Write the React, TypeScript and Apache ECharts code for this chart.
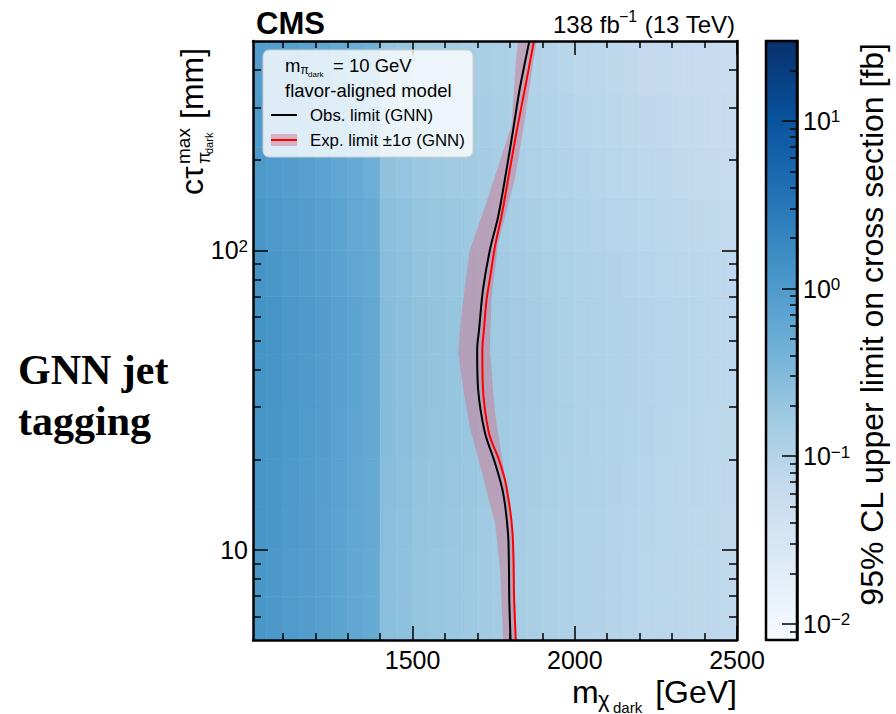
import React, { useEffect, useRef } from "react";
import * as echarts from "echarts";

// ---------- data ----------
// heat-map: 95% CL upper limit on cross section [fb]
const massEdges = [1000, 1050, 1100, 1150, 1200, 1250, 1300, 1350, 1400, 1450, 1500, 1550, 1600, 1650, 1700, 1750, 1800, 1850, 1900, 1950, 2000, 2050, 2100, 2150, 2200, 2250, 2300, 2350, 2400, 2450, 2500];
const limitVsMass = [1.15, 1.1, 1.0, 0.92, 0.82, 0.72, 0.63, 0.55, 0.26, 0.24, 0.21, 0.2, 0.19, 0.18, 0.165, 0.155, 0.14, 0.13, 0.12, 0.112, 0.105, 0.1, 0.095, 0.091, 0.087, 0.083, 0.08, 0.077, 0.074, 0.071];
const ctauEdges = [5, 7, 10, 14, 20, 30, 45, 70, 100, 150, 220, 330, 500];
const ctauFactor = [1.0, 1.0, 1.02, 1.05, 1.08, 1.1, 1.1, 1.05, 0.98, 0.9, 0.85, 0.8];

// observed limit contour (GNN)
const obsCtau = [5, 6.8, 8.8, 11.4, 15.5, 19.5, 24.6, 34.3, 46.7, 54.5, 74, 100, 130, 187, 261, 345, 500];
const obsMass = [1802, 1798, 1797, 1794, 1779, 1754, 1723, 1702, 1699, 1705, 1717, 1738, 1764, 1790, 1812, 1830, 1860];

// expected limit contour (GNN)
const expCtau = [5, 6.8, 11.4, 16.5, 20, 24.6, 36.2, 46.7, 54.5, 68.5, 80, 103, 130, 187, 254, 345, 500];
const expMass = [1818, 1813, 1808, 1788, 1766, 1735, 1716, 1715, 1720, 1728, 1738, 1754, 1774, 1800, 1822, 1846, 1874];

// expected +-1 sigma band
const bandLoCtau = [5, 6.8, 8.8, 12.3, 17.5, 25.8, 35, 45.6, 54.5, 68.5, 100, 145, 200, 261, 425, 500];
const bandLoMass = [1779, 1774, 1769, 1754, 1717, 1676, 1655, 1641, 1646, 1656, 1676, 1728, 1770, 1805, 1818, 1825];
const bandHiCtau = [5, 6.8, 8.8, 12.9, 17.5, 28.7, 46.7, 68.5, 106, 173, 254, 500];
const bandHiMass = [1820, 1816, 1815, 1805, 1785, 1754, 1738, 1743, 1764, 1815, 1841, 1882];

// axes
const xMin = 1008;
const xMax = 2500;
const yMin = 5;
const yMax = 500;
const zMin = 0.008;
const zMax = 30;
const xMajorTicks = [1500, 2000, 2500];
const xMinorTicks = [1100, 1200, 1300, 1400, 1600, 1700, 1800, 1900, 2100, 2200, 2300, 2400];
const yMajorTicks = [10, 100];
const yMinorTicks = [6, 7, 8, 9, 20, 30, 40, 50, 60, 70, 80, 90, 200, 300, 400];
const zMajorTicks = [0.01, 0.1, 1, 10];
const zMinorTicks = [0.009, 0.02, 0.03, 0.04, 0.05, 0.06, 0.07, 0.08, 0.09, 0.2, 0.3, 0.4, 0.5, 0.6, 0.7, 0.8, 0.9, 2, 3, 4, 5, 6, 7, 8, 9, 20];

const BLUES = ["#f7fbff", "#deebf7", "#c6dbef", "#9ecae1", "#6baed6", "#4292c6", "#2171b5", "#08519c", "#08306b"];
const FONT = '"Liberation Sans", Arial, Helvetica, sans-serif';
const SERIF = '"Liberation Serif", "Times New Roman", serif';
const BAND = "rgba(205,120,145,0.5)";

const L = Math.log10;

function sup(n: number): string {
  return n < 0 ? "\u2212" + String(-n) : String(n);
}

function txt(text: string, x: number, y: number, size: number, extra: any = {}) {
  return {
    type: "text",
    x,
    y,
    z: 100,
    silent: true,
    style: {
      text,
      fill: "#000",
      fontSize: size,
      fontFamily: extra.family || FONT,
      align: extra.align || "left",
      textAlign: extra.align || "left",
      verticalAlign: "middle",
      textVerticalAlign: "middle",
      fontWeight: extra.weight || "normal",
    },
  };
}

const labelRich = {
  b: { fontSize: 25, lineHeight: 25, fontFamily: FONT, color: "#000", verticalAlign: "middle" },
  s: { fontSize: 17, lineHeight: 17, fontFamily: FONT, color: "#000", verticalAlign: "top", padding: [0, 0, 13, 0] },
};

function xAxisDef(pos: "top" | "bottom", ticks: number[], len: number, labels: boolean, line: boolean) {
  return {
    type: "value",
    gridIndex: 0,
    min: xMin,
    max: xMax,
    position: pos,
    z: 10,
    axisLine: { show: line, onZero: false, lineStyle: { color: "#000", width: 2.5 } },
    axisTick: { show: true, inside: true, length: len, customValues: ticks, lineStyle: { color: "#000", width: 1.5 } },
    axisLabel: labels
      ? {
          show: true,
          customValues: ticks,
          fontSize: 25,
          fontFamily: FONT,
          color: "#000",
          margin: 7,
          formatter: (v: number) => String(Math.round(v)),
        }
      : { show: false },
    splitLine: { show: false },
  };
}

function yAxisDef(grid: number, pos: "left" | "right", lo: number, hi: number, ticks: number[], len: number, labels: boolean, line: boolean, margin: number, plainTen: boolean) {
  return {
    type: "value",
    gridIndex: grid,
    min: L(lo),
    max: L(hi),
    position: pos,
    z: 10,
    axisLine: { show: line, onZero: false, lineStyle: { color: "#000", width: 2.5 } },
    axisTick: { show: true, inside: true, length: len, customValues: ticks.map(L), lineStyle: { color: "#000", width: 1.5 } },
    axisLabel: labels
      ? {
          show: true,
          customValues: ticks.map(L),
          margin,
          formatter: (v: number) => {
            const n = Math.round(v);
            if (plainTen && n === 1) return "{b|10}";
            return "{b|10}{s|" + sup(n) + "}";
          },
          rich: labelRich,
        }
      : { show: false },
    splitLine: { show: false },
  };
}

export default function App() {
  const ref = useRef<HTMLDivElement>(null);

  useEffect(() => {
    if (!ref.current) return;
    const chart = echarts.init(ref.current, undefined, { renderer: "svg" });

    const cells: number[][] = [];
    for (let i = 0; i < limitVsMass.length; i++) {
      for (let j = 0; j < ctauFactor.length; j++) {
        cells.push([massEdges[i], massEdges[i + 1], L(ctauEdges[j]), L(ctauEdges[j + 1]), L(limitVsMass[i] * ctauFactor[j])]);
      }
    }
    const obsData = obsMass.map((m, i) => [m, L(obsCtau[i])]);
    const expData = expMass.map((m, i) => [m, L(expCtau[i])]);
    const bandData = [
      ...bandLoMass.map((m, i) => [m, L(bandLoCtau[i])]),
      ...bandHiMass.map((m, i) => [m, L(bandHiCtau[i])]).reverse(),
    ];

    const cbTop = 41;
    const cbH = 599;

    const option: any = {
      animation: false,
      backgroundColor: "#ffffff",
      grid: [
        { left: 253, top: 41, width: 484, height: 599, show: false },
        { left: 766, top: cbTop, width: 31, height: cbH, show: false },
      ],
      xAxis: [
        xAxisDef("bottom", xMajorTicks, 14, true, true),
        xAxisDef("bottom", xMinorTicks, 7, false, false),
        xAxisDef("top", xMajorTicks, 14, false, true),
        xAxisDef("top", xMinorTicks, 7, false, false),
        { type: "value", gridIndex: 1, min: 0, max: 1, show: false },
      ],
      yAxis: [
        yAxisDef(0, "left", yMin, yMax, yMajorTicks, 15, true, true, 5, true),
        yAxisDef(0, "left", yMin, yMax, yMinorTicks, 8, false, false, 5, true),
        yAxisDef(0, "right", yMin, yMax, yMajorTicks, 15, false, true, 5, true),
        yAxisDef(0, "right", yMin, yMax, yMinorTicks, 8, false, false, 5, true),
        yAxisDef(1, "right", zMin, zMax, zMajorTicks, 15, true, true, 6, false),
        yAxisDef(1, "right", zMin, zMax, zMinorTicks, 7, false, false, 6, false),
      ],
      visualMap: {
        type: "continuous",
        show: false,
        seriesIndex: 0,
        dimension: 4,
        min: L(zMin),
        max: L(zMax),
        inRange: { color: BLUES },
      },
      series: [
        {
          type: "custom",
          name: "limit",
          coordinateSystem: "cartesian2d",
          xAxisIndex: 0,
          yAxisIndex: 0,
          clip: true,
          silent: true,
          z: 1,
          encode: { x: [0, 1], y: [2, 3] },
          data: cells,
          renderItem: (params: any, api: any) => {
            const p0 = api.coord([api.value(0), api.value(3)]);
            const p1 = api.coord([api.value(1), api.value(2)]);
            const c = api.visual("color");
            return {
              type: "rect",
              shape: { x: p0[0], y: p0[1], width: p1[0] - p0[0], height: p1[1] - p0[1] },
              style: { fill: c, stroke: c, lineWidth: 0.6 },
            };
          },
        },
        {
          type: "custom",
          name: "Exp. limit ±1σ band",
          coordinateSystem: "cartesian2d",
          xAxisIndex: 0,
          yAxisIndex: 0,
          clip: true,
          silent: true,
          z: 2,
          data: bandData,
          renderItem: (params: any, api: any) => {
            if (params.dataIndex !== 0) return null;
            const pts = bandData.map((p) => api.coord(p));
            return { type: "polygon", shape: { points: pts }, style: { fill: BAND } };
          },
        },
        {
          type: "line",
          name: "Obs. limit (GNN)",
          xAxisIndex: 0,
          yAxisIndex: 0,
          data: obsData,
          smooth: 0.3,
          showSymbol: false,
          silent: true,
          z: 3,
          lineStyle: { color: "#000", width: 2 },
        },
        {
          type: "line",
          name: "Exp. limit (GNN)",
          xAxisIndex: 0,
          yAxisIndex: 0,
          data: expData,
          smooth: 0.3,
          showSymbol: false,
          silent: true,
          z: 4,
          lineStyle: { color: "#ff0000", width: 2 },
        },
      ],
      graphic: {
        elements: [
          // colour bar
          {
            type: "rect",
            z: 0,
            silent: true,
            shape: { x: 766, y: cbTop, width: 31, height: cbH },
            style: {
              fill: {
                type: "linear",
                x: 0,
                y: 0,
                x2: 0,
                y2: 1,
                colorStops: BLUES.slice().reverse().map((c, i) => ({ offset: i / (BLUES.length - 1), color: c })),
              },
              stroke: "#000",
              lineWidth: 2.5,
            },
          },
          // header
          txt("CMS", 256, 23, 31, { weight: "bold" }),
          txt("138 fb", 553, 24, 24),
          txt("\u22121", 619, 16, 16),
          txt(" (13 TeV)", 735, 24, 24, { align: "right" }),
          // legend box
          {
            type: "rect",
            z: 99,
            silent: true,
            shape: { x: 263, y: 50, width: 210, height: 107, r: 6 },
            style: { fill: "rgba(255,255,255,0.8)", stroke: "#cfcfcf", lineWidth: 1 },
          },
          txt("m", 285, 65, 18.5),
          txt("\u03c0", 300.5, 70, 12),
          txt("dark", 308, 74, 8),
          txt("= 10 GeV", 333, 65, 18.5),
          txt("flavor-aligned model", 285, 90, 18.5),
          { type: "line", z: 100, silent: true, shape: { x1: 271, y1: 115, x2: 297, y2: 115 }, style: { stroke: "#000", lineWidth: 2 } },
          txt("Obs. limit (GNN)", 310, 115, 16.8),
          { type: "rect", z: 100, silent: true, shape: { x: 271, y: 134, width: 26, height: 12 }, style: { fill: BAND } },
          { type: "line", z: 101, silent: true, shape: { x1: 271, y1: 140, x2: 297, y2: 140 }, style: { stroke: "#ff0000", lineWidth: 2 } },
          txt("Exp. limit \u00b11\u03c3 (GNN)", 310, 140, 16.8),
          // x title
          txt("m", 572, 692, 32),
          txt("\u03c7", 598, 699, 22),
          txt("dark", 613, 707, 15),
          txt("[GeV]", 737, 692, 32, { align: "right" }),
          // y title (rotated)
          {
            type: "group",
            x: 203,
            y: 195,
            rotation: Math.PI / 2,
            children: [
              txt("c\u03c4", 0, -11, 32),
              txt("max", 31, -20, 19),
              txt("\u03c0", 31, 1, 18),
              txt("dark", 41, 6, 11),
              txt("[mm]", 76, -11, 32),
            ],
          },
          // colour-bar title (rotated)
          {
            type: "group",
            x: 883,
            y: 43,
            rotation: Math.PI / 2,
            children: [txt("95% CL upper limit on cross section [fb]", 0, -11, 32, { align: "right" })],
          },
          // side caption
          txt("GNN jet", 18, 370, 42, { weight: "bold", family: SERIF }),
          txt("tagging", 18, 421, 42, { weight: "bold", family: SERIF }),
        ],
      },
    };

    chart.setOption(option);
    return () => chart.dispose();
  }, []);

  return <div ref={ref} style={{ position: "absolute", left: 0, top: 0, width: 896, height: 714 }} />;
}
